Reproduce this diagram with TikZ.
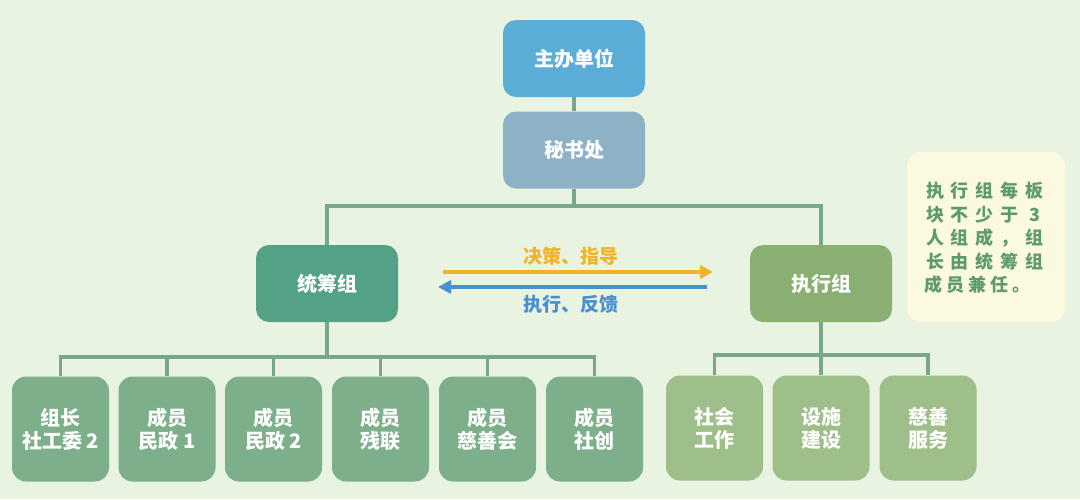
\documentclass[tikz,border=0pt]{standalone}
\usepackage{fontspec}
\newfontfamily\cjk{Noto Sans CJK SC}
\usetikzlibrary{arrows.meta}
\definecolor{bgc}{HTML}{E9F3E2}
\definecolor{topc}{HTML}{5AADD6}
\definecolor{secc}{HTML}{8DB1C5}
\definecolor{linec}{HTML}{78A889}
\definecolor{tgc}{HTML}{54A286}
\definecolor{zxc}{HTML}{89AF73}
\definecolor{lbc}{HTML}{7DAF8A}
\definecolor{rbc}{HTML}{9EBF89}
\definecolor{yelc}{HTML}{F0B429}
\definecolor{bluc}{HTML}{4A8FD0}
\definecolor{notec}{HTML}{FBFAE0}
\definecolor{notet}{HTML}{5E9B6B}
\newcommand\nc[1]{\makebox[25pt]{#1}}
\newcommand\nd[1]{\makebox[22pt]{#1}}
\tikzset{
  box/.style={rounded corners=13pt, minimum width=142pt, minimum height=77pt,
    text=white, font=\cjk\bfseries\fontsize{20}{23}\selectfont, inner sep=0pt, align=center},
  leaf/.style={box, minimum width=97pt, minimum height=105pt, rounded corners=14pt},
  conn/.style={draw=linec, line width=3.5pt},
  flow/.style={line width=3.5pt, -{Triangle[length=13pt,width=13pt]}},
  flowlbl/.style={font=\cjk\bfseries\fontsize{19}{22}\selectfont, inner sep=0pt}
}
\begin{document}
\begin{tikzpicture}[x=1pt,y=-1pt]
\fill[bgc] (0,0) rectangle (1080,499);
\useasboundingbox (0,0) rectangle (1080,499);

% top nodes
\node[box, fill=topc] (top) at (574,58.5) {主办单位};
\node[box, fill=secc] (sec) at (574,150) {秘书处};
\node[box, fill=tgc] (tg) at (327,283.5) {统筹组};
\node[box, fill=zxc] (zx) at (821,283.5) {执行组};

% note
\node[fill=notec, rounded corners=14pt, minimum width=158pt, minimum height=170pt, inner sep=0pt] (notebox) at (986,237) {};
\node[text=notet, font=\cjk\bfseries\fontsize{18}{23.5}\selectfont, align=left, inner sep=0pt] (notetext) at (985,238)
 {\nc{执}\nc{行}\nc{组}\nc{每}\nc{板}\\
  \nc{块}\nc{不}\nc{少}\nc{于}\nc{3}\\
  \nc{人}\nc{组}\nc{成}\nc{，}\nc{组}\\
  \nc{长}\nc{由}\nc{统}\nc{筹}\nc{组}\\
  \nd{成}\nd{员}\nd{兼}\nd{任}\nd{。}\hspace{15pt}};

% leaves left
\node[leaf, fill=lbc] (l1) at (60.5,429) {组长\\社工委 2};
\node[leaf, fill=lbc] (l2) at (167,429) {成员\\民政 1};
\node[leaf, fill=lbc] (l3) at (273.5,429) {成员\\民政 2};
\node[leaf, fill=lbc] (l4) at (380.5,429) {成员\\残联};
\node[leaf, fill=lbc] (l5) at (487.5,429) {成员\\慈善会};
\node[leaf, fill=lbc] (l6) at (594.5,429) {成员\\社创};

% leaves right
\node[leaf, fill=rbc] (r1) at (714.5,428) {社会\\工作};
\node[leaf, fill=rbc] (r2) at (821,428) {设施\\建设};
\node[leaf, fill=rbc] (r3) at (928,428) {慈善\\服务};

% connectors
\coordinate (bus1) at (574,206);
\coordinate (bus2) at (327,357);
\coordinate (bus3) at (821,355);
\draw[conn] (top) -- (sec);
\draw[conn] (sec) -- (bus1);
\draw[conn] (tg.north) |- (bus1) -| (zx.north);
\draw[conn] (tg.south) -- (bus2);
\draw[conn] (l1.north) |- (bus2) -| (l6.north);
\foreach \n in {l2,l3,l4,l5} \draw[conn] (\n.north) -- (\n.north |- bus2);
\draw[conn] (zx.south) -- (bus3);
\draw[conn] (r1.north) |- (bus3) -| (r3.north);
\draw[conn] (r2.north) -- (bus3);

% flows
\coordinate (ya) at (443,272);
\coordinate (yb) at (713,272);
\coordinate (ba) at (707,287);
\coordinate (bb) at (438,287);
\draw[flow, draw=yelc, fill=yelc] (ya) -- (yb);
\draw[flow, draw=bluc, fill=bluc] (ba) -- (bb);
\node[flowlbl, text=yelc] (lblA) at (571,256) {决策、指导};
\node[flowlbl, text=bluc] (lblB) at (571,304) {执行、反馈};
\end{tikzpicture}
\end{document}
